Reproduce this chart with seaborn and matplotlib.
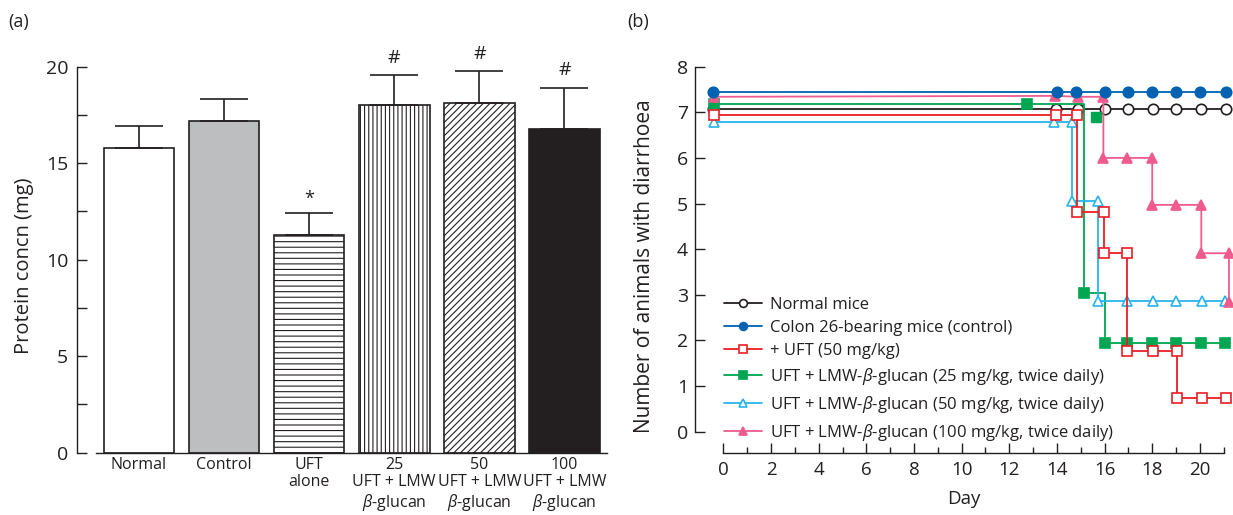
import numpy as np
import matplotlib
matplotlib.use('Agg')
import matplotlib.pyplot as plt
import seaborn as sns

sns.set_style('ticks')
plt.rcParams['font.family'] = ['Open Sans', 'DejaVu Sans']
plt.rcParams['mathtext.fontset'] = 'custom'
plt.rcParams['mathtext.rm'] = 'Open Sans'
plt.rcParams['mathtext.it'] = 'Open Sans:italic'
plt.rcParams['hatch.color'] = '#231f20'
plt.rcParams['hatch.linewidth'] = 0.8

ink = '#231f20'

# ---- panel (a) data
groups = ['Normal', 'Control', 'UFT\nalone',
          '25\nUFT + LMW\n$\\beta$-glucan',
          '50\nUFT + LMW\n$\\beta$-glucan',
          '100\nUFT + LMW\n$\\beta$-glucan']
protein = [15.79, 17.19, 11.26, 18.0, 18.09, 16.76]
protein_se = [1.14, 1.15, 1.14, 1.54, 1.67, 2.14]
marks = ['', '', '*', '#', '#', '#']
bar_colors = ['white', '#bcbec0', 'white', 'white', 'white', ink]
bar_hatch = ['', '', '---', '||||', '/////', '']

# ---- panel (b) data: step vertices per group, markers where the dot is drawn
normal_x = [-0.45, 13.95, 14.9, 16.0, 17.0, 18.05, 19.0, 20.05, 21.1]
normal_y = [7.07, 7.07, 7.07, 7.07, 7.07, 7.07, 7.07, 7.07, 7.07]
control_x = [-0.45, 14.0, 14.8, 16.0, 17.0, 18.0, 19.0, 20.0, 21.1]
control_y = [7.45, 7.45, 7.45, 7.45, 7.45, 7.45, 7.45, 7.45, 7.45]
uft_x = [-0.4, 13.95, 14.85, 14.85, 15.98, 15.98, 16.95, 16.95, 18.05, 19.03, 19.03, 20.1, 21.1]
uft_y = [6.93, 6.93, 6.93, 4.81, 4.81, 3.91, 3.91, 1.77, 1.77, 1.77, 0.74, 0.74, 0.74]
g25_x = [-0.4, 12.73, 15.12, 15.12, 16.0, 16.0, 16.93, 17.98, 19.0, 20.06, 21.07]
g25_y = [7.19, 7.19, 7.19, 3.03, 3.03, 1.95, 1.95, 1.95, 1.95, 1.95, 1.95]
g25_mark = [0, 1, 3, 5, 6, 7, 8, 9, 10]
g25_extra_x = [15.63]
g25_extra_y = [6.9]
g50_x = [-0.4, 13.88, 14.62, 14.62, 15.74, 15.74, 16.93, 18.02, 19.0, 20.09, 21.04]
g50_y = [6.79, 6.79, 6.79, 5.05, 5.05, 2.86, 2.86, 2.86, 2.86, 2.86, 2.86]
g100_x = [-0.4, 13.92, 14.9, 15.95, 15.95, 16.95, 18.0, 18.0, 19.0, 20.06, 20.06, 21.22, 21.22]
g100_y = [7.34, 7.36, 7.34, 7.34, 6.0, 6.0, 6.0, 4.97, 4.97, 4.97, 3.91, 3.91, 2.85]

fig = plt.figure(figsize=(12.33, 5.15), dpi=100)
ax1 = fig.add_axes([0.0622, 0.121, 0.4301, 0.8014])
ax2 = fig.add_axes([0.5637, 0.1204, 0.4363, 0.8019])

# ---------------- (a)
sns.barplot(x=groups, y=protein, hue=groups, palette=bar_colors, legend=False,
            width=0.83, edgecolor=ink, linewidth=1.2, saturation=1, ax=ax1)
for p, h in zip(ax1.patches, bar_hatch):
    p.set_hatch(h)
xpos = np.arange(len(groups))
ax1.errorbar(xpos, protein, yerr=[np.zeros(len(groups)), protein_se], fmt='none',
             ecolor=ink, elinewidth=1.2, capsize=17, capthick=1.2, zorder=1)
for i, m in enumerate(marks):
    if m == '*':
        ax1.text(i, protein[i] + protein_se[i] + 0.75, m, ha='center', va='center',
                 fontsize=13, color=ink)
    elif m:
        ax1.text(i, protein[i] + protein_se[i] + 0.9, m, ha='center', va='center',
                 fontsize=14, color=ink)

ax1.set_xlim(-0.73, 5.5)
ax1.set_ylim(0, 21.38)
ax1.set_yticks([0, 5, 10, 15, 20])
ax1.set_yticks(np.arange(2.5, 20, 5), minor=True)
ax1.tick_params(axis='y', which='both', direction='in', length=7, width=1.0,
                labelsize=14, colors=ink, pad=6)
ax1.tick_params(axis='x', length=0, labelsize=11.5, colors=ink, pad=3)
for t in ax1.get_xticklabels():
    t.set_linespacing(1.12)
ax1.set_ylabel('Protein concn (mg)', fontsize=14.5, color=ink)
ax1.yaxis.set_label_coords(-0.08, 0.453)
ax1.spines['top'].set_visible(False)
ax1.spines['right'].set_visible(False)
ax1.spines['left'].set_bounds(0, 20)
ax1.spines['bottom'].set_bounds(-0.5, 5.5)
for s in ['left', 'bottom']:
    ax1.spines[s].set_color(ink)
    ax1.spines[s].set_linewidth(1.0)

# ---------------- (b)
series = [
    (normal_x, normal_y, None, 'o', ink, 'white', 'Normal mice'),
    (g25_x, g25_y, g25_mark, 's', '#00a651', '#00a651',
     'UFT + LMW-$\\beta$-glucan (25 mg/kg, twice daily)'),
    (g50_x, g50_y, None, '^', '#27b4ec', 'white',
     'UFT + LMW-$\\beta$-glucan (50 mg/kg, twice daily)'),
    (uft_x, uft_y, None, 's', '#ed1c24', 'white', '+ UFT (50 mg/kg)'),
    (g100_x, g100_y, None, '^', '#ef5b8c', '#ef5b8c',
     'UFT + LMW-$\\beta$-glucan (100 mg/kg, twice daily)'),
    (control_x, control_y, None, 'o', '#0062b0', '#0062b0',
     'Colon 26-bearing mice (control)'),
]
handles = {}
for xs, ys, me, mk, col, face, lab in series:
    sns.lineplot(x=xs, y=ys, estimator=None, sort=False, ax=ax2, color=col,
                 linewidth=1.3, marker=mk, markersize=7.5 if mk == 'o' else 7,
                 markerfacecolor=face, markeredgecolor=col, markeredgewidth=1.2,
                 markevery=me, clip_on=False, label=lab, legend=False)
    handles[lab] = ax2.lines[-1]
ax2.plot(g25_extra_x, g25_extra_y, linestyle='none', marker='s', markersize=7,
         color='#00a651', clip_on=False)

order = ['Normal mice', 'Colon 26-bearing mice (control)', '+ UFT (50 mg/kg)',
         'UFT + LMW-$\\beta$-glucan (25 mg/kg, twice daily)',
         'UFT + LMW-$\\beta$-glucan (50 mg/kg, twice daily)',
         'UFT + LMW-$\\beta$-glucan (100 mg/kg, twice daily)']
leg = ax2.legend([handles[k] for k in order], order, loc='upper left',
                 bbox_to_anchor=(0.054, 0.378), frameon=False, fontsize=12,
                 handlelength=2.3, handletextpad=0.45, labelspacing=0.42,
                 borderpad=0, borderaxespad=0, markerscale=0.75)
for t in leg.get_texts():
    t.set_color(ink)

ax2.set_xlim(-1.19, 21.39)
ax2.set_ylim(-0.47, 8.585)
ax2.set_xticks(np.arange(0, 21, 2))
ax2.set_xticks(np.arange(1, 22, 2), minor=True)
ax2.set_yticks(np.arange(0, 9, 1))
ax2.tick_params(axis='y', direction='in', length=7, width=1.0, labelsize=14,
                colors=ink, pad=5)
ax2.tick_params(axis='x', which='both', direction='in', length=7, width=1.0,
                labelsize=13.5, colors=ink, pad=6)
ax2.tick_params(axis='x', which='minor', length=4)
ax2.set_xlabel('Day', fontsize=13.5, color=ink, labelpad=8)
ax2.set_ylabel('Number of animals with diarrhoea', fontsize=15, color=ink)
ax2.yaxis.set_label_coords(-0.074, 0.453)
ax2.spines['top'].set_visible(False)
ax2.spines['right'].set_visible(False)
ax2.spines['left'].set_bounds(0, 8)
ax2.spines['bottom'].set_bounds(0, 21)
for s in ['left', 'bottom']:
    ax2.spines[s].set_color(ink)
    ax2.spines[s].set_linewidth(1.0)

fig.text(0.0065, 0.958, '(a)', fontsize=13, color=ink, va='center')
fig.text(0.5085, 0.958, '(b)', fontsize=13, color=ink, va='center')

fig.savefig('out.png', dpi=100)
